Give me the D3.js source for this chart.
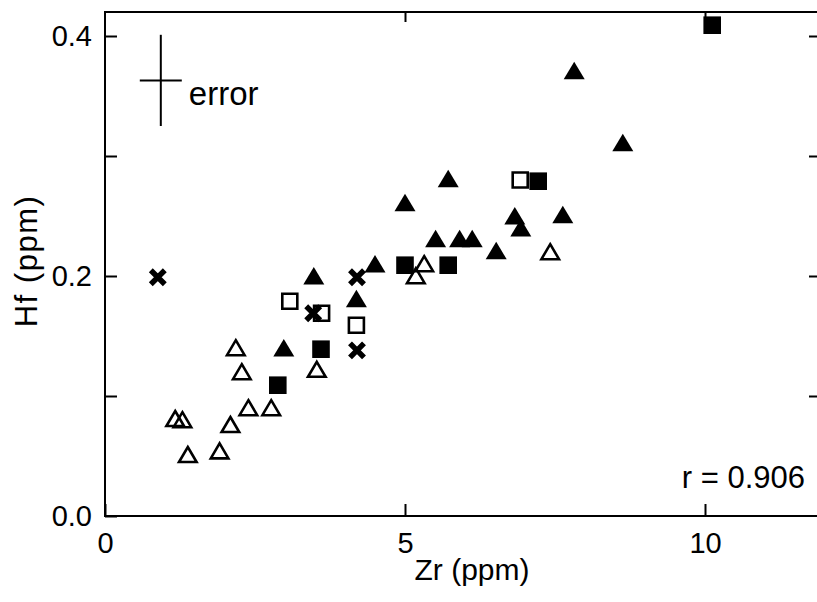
<!DOCTYPE html>
<html>
<head>
<meta charset="utf-8">
<title>Hf vs Zr</title>
<script src="https://d3js.org/d3.v7.min.js"></script>
<style>
  body { margin: 0; background: #fff; overflow: hidden; }
  svg { display: block; font-family: "Liberation Sans", Arial, sans-serif; }
  .axis line { stroke: #000; stroke-width: 2; }
  .axis text { font-size: 29px; fill: #000; font-family: "Liberation Sans", Arial, sans-serif; }
</style>
</head>
<body>
<div id="chart"></div>
<script>
// [Zr (ppm), Hf (ppm)], one array per marker type
const openTriangles = [[1.17, 0.081], [1.29, 0.080], [1.38, 0.051], [1.91, 0.054], [2.09, 0.076],
  [2.18, 0.140], [2.28, 0.120], [2.39, 0.090], [2.77, 0.090], [3.53, 0.122], [5.18, 0.200],
  [5.32, 0.210], [7.42, 0.220]];
const filledTriangles = [[2.98, 0.140], [3.48, 0.200], [4.19, 0.181], [4.50, 0.210], [5.00, 0.261],
  [5.72, 0.281], [5.51, 0.231], [5.91, 0.231], [6.12, 0.231], [6.83, 0.250], [6.93, 0.240],
  [7.63, 0.251], [6.52, 0.221], [7.82, 0.371], [8.63, 0.311]];
const openSquares = [[3.08, 0.179], [3.61, 0.169], [4.19, 0.159], [6.92, 0.280]];
const filledSquares = [[2.88, 0.109], [3.60, 0.139], [5.00, 0.209], [5.72, 0.209], [7.22, 0.279], [10.12, 0.409]];
const crosses = [[0.88, 0.199], [3.47, 0.169], [4.20, 0.199], [4.20, 0.138]];

const xTicks = [0, 5, 10];
const yTicks = [0, 0.1, 0.2, 0.3, 0.4];
const yLabels = [0, 0.2, 0.4];
const errorBar = { x: 0.93, y: 0.363, dx: 0.35, dy: 0.038 };
const rText = 'r = 0.906';

const width = 817, height = 602;
const xMax = 11.95, yMax = 0.42;

const svg = d3.select('#chart').append('svg')
  .attr('width', width)
  .attr('height', height);

const x = d3.scaleLinear().domain([0, xMax]).range([105, 105 + 60 * xMax]);
const y = d3.scaleLinear().domain([0, yMax]).range([516, 12]);

// frame: the right side sits just past the edge of the picture
svg.append('path')
  .attr('d', `M${x(xMax)},${y(yMax)}H${x(0)}V${y(0)}H${x(xMax)}`)
  .attr('fill', 'none')
  .attr('stroke', '#000')
  .attr('stroke-width', 2);

// axes, ticks point inward
svg.append('g')
  .attr('class', 'axis')
  .attr('transform', `translate(0, ${y(0)})`)
  .call(d3.axisBottom(x).tickValues(xTicks).tickSizeInner(-12).tickSizeOuter(0).tickPadding(16))
  .call(g => g.select('.domain').remove());

svg.append('g')
  .attr('class', 'axis')
  .attr('transform', `translate(${x(0)}, 0)`)
  .call(d3.axisLeft(y).tickValues(yTicks).tickSizeInner(-12).tickSizeOuter(0).tickPadding(13)
    .tickFormat(d => yLabels.includes(d) ? d3.format('.1f')(d) : ''))
  .call(g => g.select('.domain').remove());

svg.append('g')
  .attr('class', 'axis')
  .attr('transform', `translate(0, ${y(yMax)})`)
  .call(d3.axisTop(x).tickValues(xTicks.slice(1)).tickSizeInner(-10).tickSizeOuter(0).tickFormat(''))
  .call(g => g.select('.domain').remove());

svg.append('g')
  .attr('class', 'axis')
  .attr('transform', `translate(${x(xMax)}, 0)`)
  .call(d3.axisRight(y).tickValues(yTicks.slice(1)).tickSizeInner(-13).tickSizeOuter(0).tickFormat(''))
  .call(g => g.select('.domain').remove());

// axis titles
svg.append('text')
  .attr('x', 472)
  .attr('y', 580)
  .attr('text-anchor', 'middle')
  .attr('font-size', 30)
  .text('Zr (ppm)');

svg.append('text')
  .attr('transform', 'translate(37, 261) rotate(-90)')
  .attr('text-anchor', 'middle')
  .attr('font-size', 31)
  .attr('letter-spacing', 1.5)
  .text('Hf (ppm)');

// error cross
const err = svg.append('g').attr('stroke', '#000').attr('stroke-width', 2);
err.append('line')
  .attr('x1', x(errorBar.x)).attr('x2', x(errorBar.x))
  .attr('y1', y(errorBar.y + errorBar.dy)).attr('y2', y(errorBar.y - errorBar.dy));
err.append('line')
  .attr('x1', x(errorBar.x - errorBar.dx)).attr('x2', x(errorBar.x + errorBar.dx))
  .attr('y1', y(errorBar.y)).attr('y2', y(errorBar.y));

svg.append('text')
  .attr('x', x(errorBar.x + errorBar.dx) + 7)
  .attr('y', y(errorBar.y) + 25)
  .attr('font-size', 33)
  .text('error');

svg.append('text')
  .attr('x', 805)
  .attr('y', 488)
  .attr('text-anchor', 'end')
  .attr('font-size', 31)
  .text(rText);

// markers
const shapes = {
  openTri: 'M0,-7.8L8.8,7.2L-8.8,7.2Z',
  fillTri: 'M0,-9L10.5,8.5L-10.5,8.5Z',
  openSq: 'M-7.5,-7.5H7.5V7.5H-7.5Z',
  fillSq: 'M-8.8,-8.8H8.8V8.8H-8.8Z',
  cross: 'M-7,-7L7,7M7,-7L-7,7'
};

function plot(data, shape, fill, stroke, sw) {
  svg.append('g').selectAll('path')
    .data(data)
    .enter()
    .append('path')
    .attr('transform', d => `translate(${x(d[0])}, ${y(d[1])})`)
    .attr('d', shapes[shape])
    .attr('fill', fill)
    .attr('stroke', stroke)
    .attr('stroke-width', sw);
}

plot(openTriangles, 'openTri', 'none', '#000', 2.6);
plot(filledTriangles, 'fillTri', '#000', 'none', 0);
plot(openSquares, 'openSq', 'none', '#000', 2.6);
plot(filledSquares, 'fillSq', '#000', 'none', 0);
plot(crosses, 'cross', 'none', '#000', 5.5);
</script>
</body>
</html>
